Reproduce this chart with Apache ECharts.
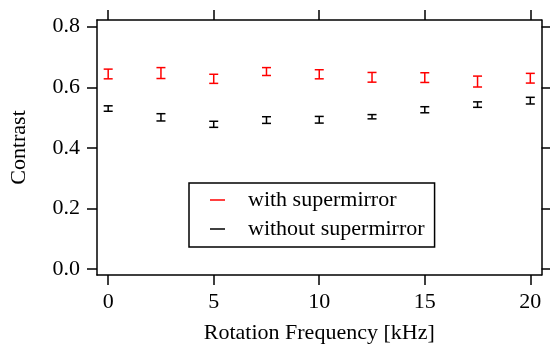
<!DOCTYPE html>
<html>
<head>
<meta charset="utf-8">
<script src="https://cdn.jsdelivr.net/npm/echarts@6/dist/echarts.min.js"></script>
<style>
html,body{margin:0;padding:0;background:#fff;}
#c{width:550px;height:349px;}
</style>
</head>
<body>
<div id="c"></div>
<script>
const freqs = [0, 2.5, 5, 7.5, 10, 12.5, 15, 17.5, 20];
const withValues = [0.644, 0.647, 0.628, 0.652, 0.643, 0.633, 0.632, 0.619, 0.630];
const withErrors = [0.016, 0.018, 0.015, 0.013, 0.015, 0.016, 0.016, 0.018, 0.016];
const withoutValues = [0.530, 0.501, 0.478, 0.492, 0.493, 0.503, 0.526, 0.543, 0.556];
const withoutErrors = [0.009, 0.012, 0.010, 0.011, 0.011, 0.007, 0.010, 0.009, 0.011];
const xTicks = [0, 5, 10, 15, 20];
const yTicks = [0, 0.2, 0.4, 0.6, 0.8];
const seriesNames = ['with supermirror', 'without supermirror'];
const seriesColors = ['#ff0000', '#000000'];

const FONT = 'Liberation Serif';
const FS = 22;
const chart = echarts.init(document.getElementById('c'), null, {renderer: 'canvas'});

function errData(vals, errs) {
  return freqs.map((f, i) => [f, vals[i], vals[i] - errs[i], vals[i] + errs[i]]);
}
function makeRender(color) {
  return function (params, api) {
    const x = api.value(0);
    const lo = api.coord([x, api.value(2)]);
    const hi = api.coord([x, api.value(3)]);
    const half = 4.5;
    const style = {stroke: color, lineWidth: 1.5, fill: null};
    return {
      type: 'group',
      children: [
        {type: 'line', shape: {x1: lo[0], y1: lo[1], x2: hi[0], y2: hi[1]}, style: style},
        {type: 'line', shape: {x1: lo[0] - half, y1: lo[1], x2: lo[0] + half, y2: lo[1]}, style: style},
        {type: 'line', shape: {x1: hi[0] - half, y1: hi[1], x2: hi[0] + half, y2: hi[1]}, style: style}
      ]
    };
  };
}

const axisLineStyle = {color: '#000', width: 1.5};
function xAxisCfg(pos, showLabel) {
  return {
    type: 'value', position: pos, min: -0.53, max: 20.53,
    axisLine: {show: true, onZero: false, lineStyle: axisLineStyle},
    axisTick: {show: true, inside: false, length: 10, lineStyle: axisLineStyle, customValues: xTicks},
    axisLabel: {show: showLabel, customValues: xTicks, color: '#000', fontFamily: FONT, fontSize: FS, margin: 16},
    splitLine: {show: false},
    name: showLabel ? 'Rotation Frequency [kHz]' : '',
    nameLocation: 'middle', nameGap: 47,
    nameTextStyle: {color: '#000', fontFamily: FONT, fontSize: FS}
  };
}
function yAxisCfg(pos, showLabel) {
  return {
    type: 'value', position: pos, min: -0.019, max: 0.822,
    axisLine: {show: true, onZero: false, lineStyle: axisLineStyle},
    axisTick: {show: true, inside: false, length: 10, lineStyle: axisLineStyle, customValues: yTicks},
    axisLabel: {show: showLabel, customValues: yTicks, color: '#000', fontFamily: FONT, fontSize: FS, margin: 17,
      formatter: v => v.toFixed(1)},
    splitLine: {show: false},
    name: showLabel ? 'Contrast' : '',
    nameLocation: 'middle', nameGap: 67, nameRotate: 90,
    nameTextStyle: {color: '#000', fontFamily: FONT, fontSize: FS}
  };
}

chart.setOption({
  animation: false,
  backgroundColor: '#fff',
  color: seriesColors,
  grid: {left: 97, right: 8.5, top: 20, bottom: 74, containLabel: false},
  xAxis: [xAxisCfg('bottom', true), xAxisCfg('top', false)],
  yAxis: [yAxisCfg('left', true), yAxisCfg('right', false)],
  legend: {
    orient: 'vertical', left: 189, top: 183,
    padding: [6, 10, 7, 21], itemGap: 7,
    borderColor: '#000', borderWidth: 1.5, backgroundColor: '#fff',
    itemWidth: 15, itemHeight: 1.5, icon: 'rect',
    textStyle: {color: '#000', fontFamily: FONT, fontSize: FS, padding: [0, 0, 0, 18]},
    data: seriesNames.map((n, i) => ({name: n, itemStyle: {color: seriesColors[i]}}))
  },
  series: [
    {name: seriesNames[0], type: 'custom', renderItem: makeRender(seriesColors[0]),
      itemStyle: {color: seriesColors[0]}, encode: {x: 0, y: [1, 2, 3]}, data: errData(withValues, withErrors), z: 3},
    {name: seriesNames[1], type: 'custom', renderItem: makeRender(seriesColors[1]),
      itemStyle: {color: seriesColors[1]}, encode: {x: 0, y: [1, 2, 3]}, data: errData(withoutValues, withoutErrors), z: 3}
  ]
});
</script>
</body>
</html>
